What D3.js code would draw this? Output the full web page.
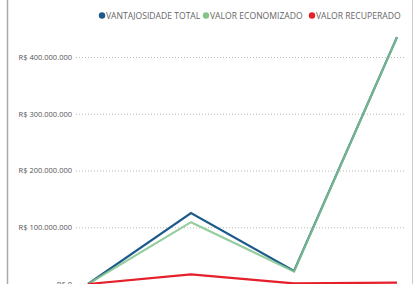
<!DOCTYPE html>
<html>
  <head>
    <meta charset="utf-8">
    <script src="https://cdn.jsdelivr.net/npm/d3@7"></script>
    <style>
      body { margin: 0; background: #fff; }
      text { font-family: "Open Sans", sans-serif; }
      .axis .domain { display: none; }
      .axis .tick line { stroke: #bbb; stroke-dasharray: 1,2; }
      .axis .tick text { fill: #555; font-size: 7.5px; }
      .legend text { fill: #666; font-size: 8.6px; }
    </style>
  </head>
  <body>
    <svg width="416" height="284"></svg>
    <script>
      // periods (labels fall below the visible area)
      var periods = ['P1', 'P2', 'P3', 'P4'];
      var vantajosidade = [0, 125000000, 23000000, 435000000];
      var economizado = [0, 109000000, 22000000, 435000000];
      var recuperado = [0, 17000000, 1000000, 2500000];
      var yTicks = [0, 100000000, 200000000, 300000000, 400000000];

      var series = [
        { key: 'VANTAJOSIDADE TOTAL', values: vantajosidade, color: '#1d5a8c' },
        { key: 'VALOR ECONOMIZADO', values: economizado, color: '#83c48d' },
        { key: 'VALOR RECUPERADO', values: recuperado, color: '#e4202b' }
      ];

      var svg = d3.select('svg');

      // card border
      svg.append('line').attr('x1', 7.5).attr('x2', 7.5).attr('y1', 0).attr('y2', 284)
        .attr('stroke', '#aaa').attr('stroke-width', 1.5);
      svg.append('line').attr('x1', 412.5).attr('x2', 412.5).attr('y1', 0).attr('y2', 284)
        .attr('stroke', '#ccc').attr('stroke-width', 1);

      var xScale = d3.scalePoint().domain(periods).range([88, 397]);
      var yScale = d3.scaleLinear().domain([0, 400000000]).range([284, 57]);

      var fmt = function (v) {
        return 'R$ ' + d3.format(',')(v).replace(/,/g, '.');
      };

      var yAxis = d3.axisLeft(yScale)
        .tickValues(yTicks)
        .tickSize(-329)
        .tickPadding(4)
        .tickFormat(fmt);

      svg.append('g')
        .attr('class', 'axis')
        .attr('transform', 'translate(76,0)')
        .call(yAxis);

      var line = d3.line()
        .x(function (d, i) { return xScale(periods[i]); })
        .y(function (d) { return yScale(d); });

      svg.selectAll('path.series').data(series)
        .enter().append('path')
          .attr('class', 'series')
          .attr('fill', 'none')
          .attr('stroke', function (d) { return d.color; })
          .attr('stroke-opacity', function (d, i) { return i === 1 ? 0.85 : 1; })
          .attr('stroke-width', 2.2)
          .attr('d', function (d) { return line(d.values); });

      // legend
      var legend = svg.append('g').attr('class', 'legend');
      var lx = [102, 206, 312];
      series.forEach(function (s, i) {
        legend.append('circle').attr('cx', lx[i]).attr('cy', 15.5).attr('r', 3.2).attr('fill', s.color);
        legend.append('text').attr('x', lx[i] + 4).attr('y', 18.5).text(s.key);
      });
    </script>
  </body>
</html>
